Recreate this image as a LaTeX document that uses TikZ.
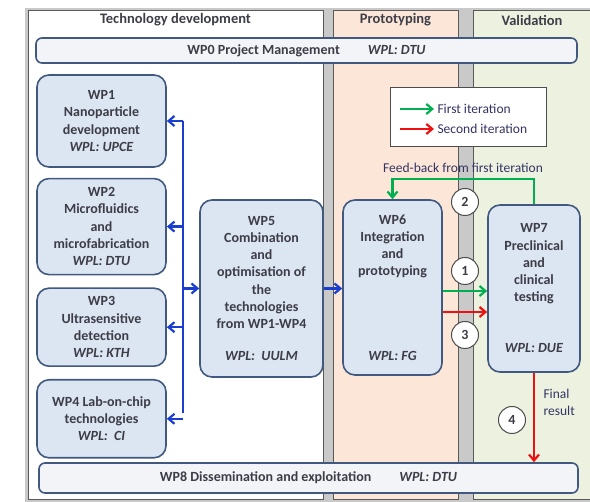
\documentclass[tikz,border=0pt]{standalone}
\usepackage{fontspec}
\setmainfont{Carlito}
\usepackage{xcolor}
\definecolor{wpfill}{HTML}{DCE6F2}
\definecolor{wpline}{HTML}{41597F}
\definecolor{barfill}{HTML}{F2F4F8}
\definecolor{protofill}{HTML}{FCE6D8}
\definecolor{valfill}{HTML}{EDF2E0}
\definecolor{bgray}{HTML}{C9C9C9}
\definecolor{ink}{HTML}{3D3D48}
\definecolor{cBlue}{HTML}{1A3FD0}
\definecolor{cGreen}{HTML}{00B050}
\definecolor{cRed}{HTML}{F01010}
\usetikzlibrary{positioning, arrows.meta}

\begin{document}
\begin{tikzpicture}[x=1pt, y=-1pt, node distance=10pt,
   every node/.style={font=\bfseries\fontsize{14}{17.2}\selectfont, text=ink},
   panel/.style={draw=gray!70!black, line width=0.8pt},
   wp/.style={draw=wpline, fill=wpfill, line width=1.6pt, rounded corners=12pt, align=center, inner sep=2pt},
   bar/.style={wp, fill=barfill, rounded corners=6pt, minimum height=25pt},
   head/.style={font=\bfseries\fontsize{14.5}{16}\selectfont},
   note/.style={font=\fontsize{13.5}{17}\selectfont, text=ink!85!blue, align=left},
   num/.style={circle, draw=gray!60!black, fill=white, line width=1pt, minimum size=27pt, inner sep=0pt},
   barb/.style={-{Straight Barb[length=6pt, width=10pt]}, line width=2.2pt}]
  \useasboundingbox (0,0) rectangle (590,502);
  % columns
  \fill[bgray] (25,8) rectangle (590,502);
  \draw[panel, fill=white] (28,10) rectangle (323,499);
  \draw[panel, fill=protofill] (333,10) rectangle (458,499);
  \draw[panel, fill=valfill] (473,10) rectangle (592,499);
  \node[head] (hTech) at (175.5,20) {Technology development};
  \node[head] (hProto) at (395.5,20) {Prototyping};
  \node[head] (hVal) at (532,20) {Validation};
  % work packages
  \node[bar, minimum width=541pt] (wp0) at (306.5,50.5) {WP0 Project Management\hspace{2em}\textit{WPL: DTU}};
  \node[wp, minimum width=129pt, minimum height=92pt] (wp1) at (101.5,121) {WP1\\Nanoparticle\\development\\\textit{WPL: UPCE}};
  \node[wp, minimum width=129pt, minimum height=96pt, below=10pt of wp1] (wp2) {WP2\\Microfluidics\\and\\microfabrication\\\textit{WPL: DTU}};
  \node[wp, minimum width=129pt, minimum height=78pt, below=12pt of wp2] (wp3) {WP3\\Ultrasensitive\\detection\\\textit{WPL: KTH}};
  \node[wp, minimum width=129pt, minimum height=78pt, below=12pt of wp3] (wp4) {WP4 Lab-on-chip\\technologies\\\textit{WPL:\ \ CI}};
  \node[wp, minimum width=123pt, minimum height=177pt] (wp5) at (261.5,288.5) {WP5\\Combination\\and\\optimisation of\\the\\technologies\\from WP1-WP4\\[15pt]\textit{WPL:\ \ UULM}};
  \node[wp, minimum width=99pt, minimum height=175pt] (wp6) at (392.5,287.5) {WP6\\Integration\\and\\prototyping\\[67pt]\textit{WPL: FG}};
  \node[wp, minimum width=92pt, minimum height=167pt] (wp7) at (534,288.5) {WP7\\Preclinical\\and\\clinical\\testing\\[34pt]\textit{WPL: DUE}};
  \node[bar, minimum width=539pt, minimum height=30pt] (wp8) at (308.5,478) {WP8 Dissemination and exploitation\hspace{2em}\textit{WPL: DTU}};
  % legend
  \node[draw=gray!60!black, fill=white, line width=0.8pt, minimum width=156pt, minimum height=59pt] (legend) at (468,116.5) {};
  \node[note, anchor=west] (lgA) at (434,109) {First iteration};
  \node[note, anchor=west] (lgB) at (434,129) {Second iteration};
  \coordinate (lgAs) at (400,109);
  \coordinate (lgBs) at (400,129);
  \draw[barb, cGreen] (lgAs) -- (lgA.west);
  \draw[barb, cRed] (lgBs) -- (lgB.west);
  % technology bus
  \coordinate (busTop) at (183,121);
  \coordinate (busBot) at (183,413);
  \draw[cBlue, line width=2.2pt] (busTop) -- (busBot);
  \foreach \w in {wp1,wp2,wp3,wp4} \draw[barb, cBlue] (busTop |- \w.east) -- (\w.east);
  \draw[barb, cBlue] (busTop |- wp5.west) -- (wp5.west);
  \draw[barb, cBlue] (wp5.east) -- (wp5.east -| wp6.west);
  % iterations
  \coordinate (g1) at ([yshift=-3.5pt]wp6.east);
  \coordinate (r1) at ([yshift=-24.5pt]wp6.east);
  \draw[barb, cGreen] (g1) -- (g1 -| wp7.west);
  \draw[barb, cRed] (r1) -- (r1 -| wp7.west);
  \coordinate (fb) at (465,179);
  \draw[barb, cGreen] (wp7.north) |- (fb) -| (wp6.north);
  \node[note] (fbtext) at (463,168) {Feed-back from first iteration};
  \draw[barb, cRed] (wp7.south) -- (wp7.south |- wp8.north);
  \node[note, anchor=west] (fin) at (540,402) {Final\\result};
  \node[num] (n2) at (465,202) {2};
  \node[num] (n1) at (465,271) {1};
  \node[num] (n3) at (465,335) {3};
  \node[num] (n4) at (512,420) {4};
\end{tikzpicture}
\end{document}
